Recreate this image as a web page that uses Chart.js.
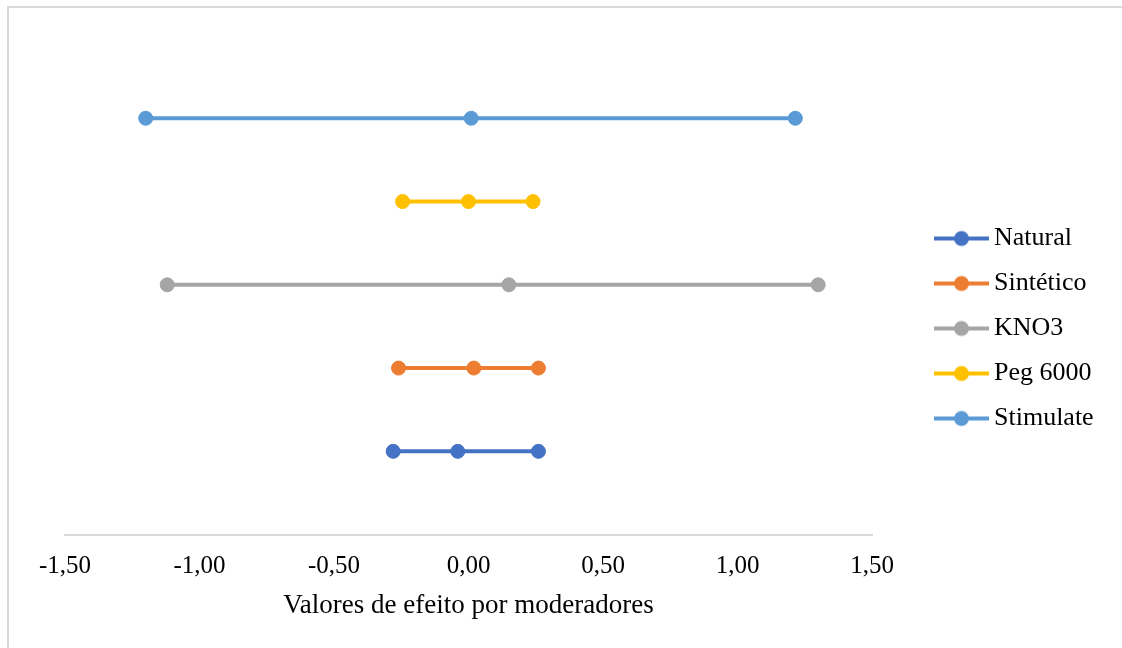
<!DOCTYPE html>
<html>
<head>
<meta charset="utf-8">
<script src="https://cdn.jsdelivr.net/npm/chart.js@4"></script>
<style>
  body { margin: 0; background: #fff; }
  #frame { position: absolute; left: 7px; top: 6px; width: 1130px; height: 660px; border: 2px solid #d9d9d9; }
  #chart { position: absolute; left: 0; top: 0; }
</style>
</head>
<body>
<div id="frame"></div>
<canvas id="chart" width="1122" height="648"></canvas>
<script>
// moderadores, de baixo para cima
const categories = ["Natural", "Sintético", "KNO3", "Peg 6000", "Stimulate"];
const lowerValues = [-0.28, -0.26, -1.12, -0.245, -1.20];
const meanValues = [-0.04, 0.02, 0.15, 0.00, 0.01];
const upperValues = [0.26, 0.26, 1.30, 0.24, 1.215];
const rowPositions = [1, 2, 3, 4, 5];
const xTicks = [-1.5, -1.0, -0.5, 0.0, 0.5, 1.0, 1.5];
const colors = ["#4472C4", "#ED7D31", "#A5A5A5", "#FFC000", "#5B9BD5"];

const serif = '"Liberation Serif", "Times New Roman", serif';

// icone da legenda: linha com ponto no meio
function legendIcon(color) {
    const c = document.createElement("canvas");
    c.width = 106;
    c.height = 20;
    const g = c.getContext("2d");
    g.strokeStyle = color;
    g.lineWidth = 4;
    g.beginPath();
    g.moveTo(51, 10);
    g.lineTo(106, 10);
    g.stroke();
    g.fillStyle = color;
    g.beginPath();
    g.arc(78.5, 10, 7.5, 0, Math.PI * 2);
    g.fill();
    return c;
}
const icons = colors.map(legendIcon);

const datasets = categories.map((name, i) => ({
    label: name,
    data: [
        { x: lowerValues[i], y: rowPositions[i] },
        { x: meanValues[i], y: rowPositions[i] },
        { x: upperValues[i], y: rowPositions[i] }
    ],
    borderColor: colors[i],
    backgroundColor: colors[i],
    pointBackgroundColor: colors[i],
    pointBorderColor: colors[i],
    borderWidth: 4,
    pointRadius: 7,
    pointBorderWidth: 1,
    fill: false
}));

new Chart(document.getElementById("chart").getContext("2d"), {
    type: "line",
    data: { datasets: datasets },
    options: {
        responsive: false,
        animation: false,
        devicePixelRatio: 1,
        layout: { padding: { left: 65, top: 35, right: 22, bottom: 26 } },
        scales: {
            x: {
                type: "linear",
                min: -1.5,
                max: 1.5,
                afterBuildTicks: axis => { axis.ticks = xTicks.map(v => ({ value: v })); },
                grid: { display: false, drawTicks: false },
                border: { display: true, color: "#d9d9d9", width: 2 },
                ticks: {
                    padding: 17,
                    color: "#000",
                    font: { family: serif, size: 25 },
                    callback: v => v.toFixed(2).replace(".", ",")
                },
                title: {
                    display: true,
                    text: "Valores de efeito por moderadores",
                    color: "#000",
                    font: { family: serif, size: 27 },
                    padding: { top: -9, bottom: 0 }
                }
            },
            y: {
                type: "linear",
                min: 0,
                max: 6,
                display: false
            }
        },
        plugins: {
            tooltip: { enabled: false },
            legend: {
                position: "right",
                align: "center",
                maxWidth: 228,
                labels: {
                    usePointStyle: true,
                    pointStyleWidth: 90,
                    padding: 19,
                    color: "#000",
                    font: { family: serif, size: 26 },
                    generateLabels: chart => Chart.defaults.plugins.legend.labels.generateLabels(chart)
                        .map((item, i) => Object.assign(item, { pointStyle: icons[i] }))
                }
            }
        }
    }
});
</script>
</body>
</html>
